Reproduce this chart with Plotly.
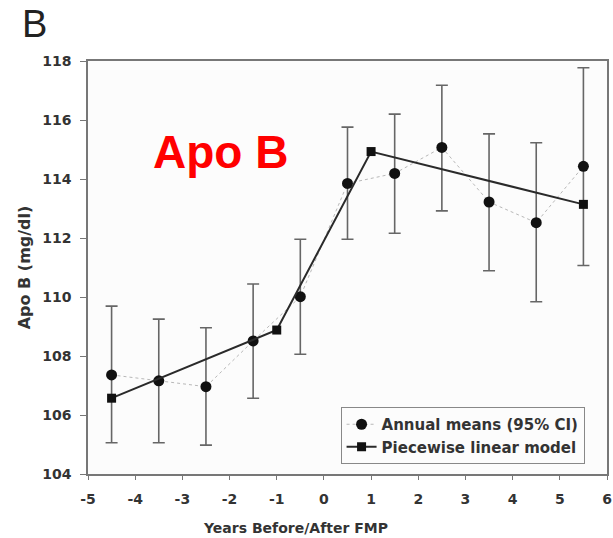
import plotly.graph_objects as go

# Annual means of Apo B with 95% confidence limits
years = [-4.5, -3.5, -2.5, -1.5, -0.5, 0.5, 1.5, 2.5, 3.5, 4.5, 5.5]
means = [107.36, 107.16, 106.96, 108.51, 110.01, 113.85, 114.19, 115.07, 113.22, 112.52, 114.43]
ci_upper = [109.69, 109.25, 108.96, 110.44, 111.96, 115.76, 116.20, 117.18, 115.53, 115.23, 117.77]
ci_lower = [105.06, 105.06, 104.98, 106.57, 108.06, 111.96, 112.16, 112.92, 110.89, 109.84, 111.07]

# Piecewise linear model knots
model_x = [-4.5, -1, 1, 5.5]
model_y = [106.57, 108.88, 114.93, 113.14]

x_ticks = list(range(-5, 7))
y_ticks = list(range(104, 119, 2))

err_plus = [u - m for u, m in zip(ci_upper, means)]
err_minus = [m - l for m, l in zip(means, ci_lower)]

LABEL_FONT = "DejaVu Sans, sans-serif"
TITLE_FONT = "Liberation Sans, Arial, sans-serif"
TXT = "#333333"

# plot area in pixels, used to place the free text labels
L, R, T, B = 88, 1, 61, 64
W, H = 613, 538
PW, PH = W - L - R, H - T - B


def px_to_paper(px, py):
    return (px - L) / PW, (H - B - py) / PH


fig = go.Figure()

fig.add_trace(go.Scatter(
    x=years, y=means, mode="lines+markers",
    name="<b>Annual means (95% CI)</b>",
    line=dict(color="#b8b8b8", width=1, dash="dot"),
    marker=dict(symbol="circle", size=11, color="#111111"),
    error_y=dict(type="data", symmetric=False, array=err_plus, arrayminus=err_minus,
                 color="#666666", thickness=1.6, width=6),
))

fig.add_trace(go.Scatter(
    x=model_x, y=model_y, mode="lines+markers",
    name="<b>Piecewise linear model</b>",
    line=dict(color="#2a2a2a", width=2),
    marker=dict(symbol="square", size=9, color="#111111"),
))

lx, ly = px_to_paper(343, 407)

fig.update_layout(
    width=W, height=H,
    margin=dict(l=L, r=R, t=T, b=B),
    paper_bgcolor="white",
    plot_bgcolor="#fcfcfc",
    font=dict(family=LABEL_FONT, color=TXT),
    showlegend=True,
    legend=dict(
        x=lx, y=ly, xanchor="left", yanchor="top",
        bordercolor="#888888", borderwidth=1, bgcolor="#fcfcfc",
        font=dict(size=15, color=TXT, family=LABEL_FONT),
        tracegroupgap=0, itemsizing="trace",
    ),
    xaxis=dict(
        range=[-5, 6], tickvals=x_ticks,
        ticktext=[f"<b>{v}</b>" for v in x_ticks],
        showgrid=False, zeroline=False,
        showline=True, linecolor="#777777", linewidth=1.5, mirror=True,
        ticks="outside", ticklen=4, tickcolor="#777777",
        ticklabelstandoff=7, ticklabeloverflow="allow",
        tickfont=dict(size=14, color=TXT),
    ),
    yaxis=dict(
        range=[104, 118], tickvals=y_ticks,
        ticktext=[f"<b>{v}</b>" for v in y_ticks],
        showgrid=False, zeroline=False,
        showline=True, linecolor="#777777", linewidth=1.5, mirror=True,
        ticks="outside", ticklen=6, tickcolor="#777777",
        ticklabelstandoff=6,
        tickfont=dict(size=14, color=TXT),
        title=dict(text="<b>Apo B (mg/dl)</b>", font=dict(size=16, color=TXT), standoff=8),
    ),
)

# x-axis title, set slightly left of the plot centre
tx, ty = px_to_paper(297, 528)
fig.add_annotation(
    text="<b>Years Before/After FMP</b>", xref="paper", yref="paper", x=tx, y=ty,
    xanchor="center", yanchor="middle", showarrow=False,
    font=dict(size=14, color=TXT, family=LABEL_FONT),
)

# Panel letter
bx, by = px_to_paper(19, 1)
fig.add_annotation(
    text="B", xref="paper", yref="paper", x=bx, y=by,
    xanchor="left", yanchor="top", showarrow=False,
    font=dict(size=38, color="#222222", family=TITLE_FONT),
)

# In-plot analyte label
ax, ay = px_to_paper(222, 152)
fig.add_annotation(
    text="<b>Apo B</b>", xref="paper", yref="paper", x=ax, y=ay,
    xanchor="center", yanchor="middle", showarrow=False,
    font=dict(size=46, color="#ff0000", family=TITLE_FONT),
)

fig.write_html("out.html")
